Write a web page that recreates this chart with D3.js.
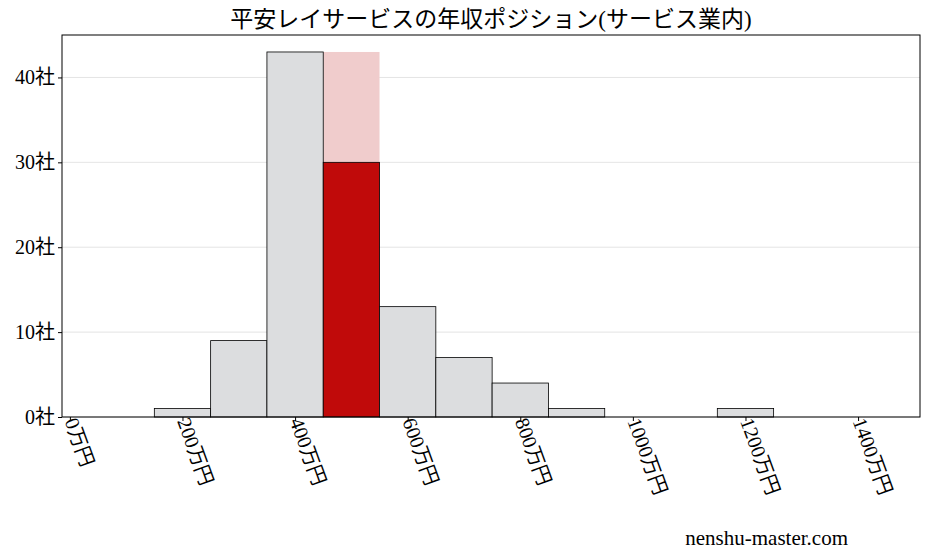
<!DOCTYPE html>
<html><head><meta charset="utf-8">
<script src="https://cdn.jsdelivr.net/npm/d3@7"></script>
<style>body{margin:0;background:#fff}</style></head>
<body><svg id="c" width="927" height="557"></svg>
<script>
const binStarts=[150,250,350,450,550,650,750,850,1150];
const counts=[1,9,43,30,13,7,4,1,1];
const highlightIndex=3;
const highlightBinTotal=43;
const yTicks=[0,10,20,30,40];
const xTicks=[0,200,400,600,800,1000,1200,1400];
const title="平安レイサービスの年収ポジション(サービス業内)";
const binWidth=100;
const svg=d3.select("#c");
const font="'Liberation Serif','DejaVu Serif','Noto Sans CJK JP',serif";
const L=62,R=920,T=35,B=417;
const x=d3.scaleLinear().domain([-14,1510]).range([L,R]);
const y=d3.scaleLinear().domain([0,45]).range([B,T]);
svg.append("g").selectAll("line").data(yTicks).join("line")
 .attr("x1",L).attr("x2",R).attr("y1",d=>y(d)).attr("y2",d=>y(d)).attr("stroke","#ddd").attr("stroke-width",0.8);
const data=binStarts.map((s,i)=>({s,c:counts[i],i}));
svg.append("rect").attr("x",x(binStarts[highlightIndex])).attr("width",x(binWidth)-x(0))
 .attr("y",y(highlightBinTotal)).attr("height",y(0)-y(highlightBinTotal)).attr("fill","#f0cccc");
svg.append("g").selectAll("rect").data(data).join("rect")
 .attr("x",d=>x(d.s)).attr("width",x(binWidth)-x(0)).attr("y",d=>y(d.c)).attr("height",d=>y(0)-y(d.c))
 .attr("fill",d=>d.i===highlightIndex?"#c00a0a":"#dcdddf").attr("stroke","#000").attr("stroke-width",0.8);
svg.append("rect").attr("x",L).attr("y",T).attr("width",R-L).attr("height",B-T).attr("fill","none").attr("stroke","#000");
const ya=svg.append("g").attr("transform",`translate(${L},0)`).call(d3.axisLeft(y).tickValues(yTicks).tickFormat(d=>d+"社").tickSize(4));
ya.select(".domain").remove();
ya.selectAll("text").attr("font-family",font).attr("font-size",20).attr("fill","#000");
const xa=svg.append("g").attr("transform",`translate(0,${B})`).call(d3.axisBottom(x).tickValues(xTicks).tickFormat(d=>d+"万円").tickSize(4));
xa.select(".domain").remove();
xa.selectAll("text").attr("font-family",font).attr("font-size",20).attr("fill","#000")
 .attr("text-anchor","start").attr("transform","translate(-6,4) rotate(70)").attr("dy","0").attr("y",0).attr("x",0);
svg.append("text").attr("x",(L+R)/2).attr("y",27).attr("text-anchor","middle").attr("font-family",font).attr("font-size",23).text(title);
svg.append("text").attr("x",848).attr("y",545).attr("text-anchor","end").attr("font-family",font).attr("font-size",21).text("nenshu-master.com");
</script></body></html>
